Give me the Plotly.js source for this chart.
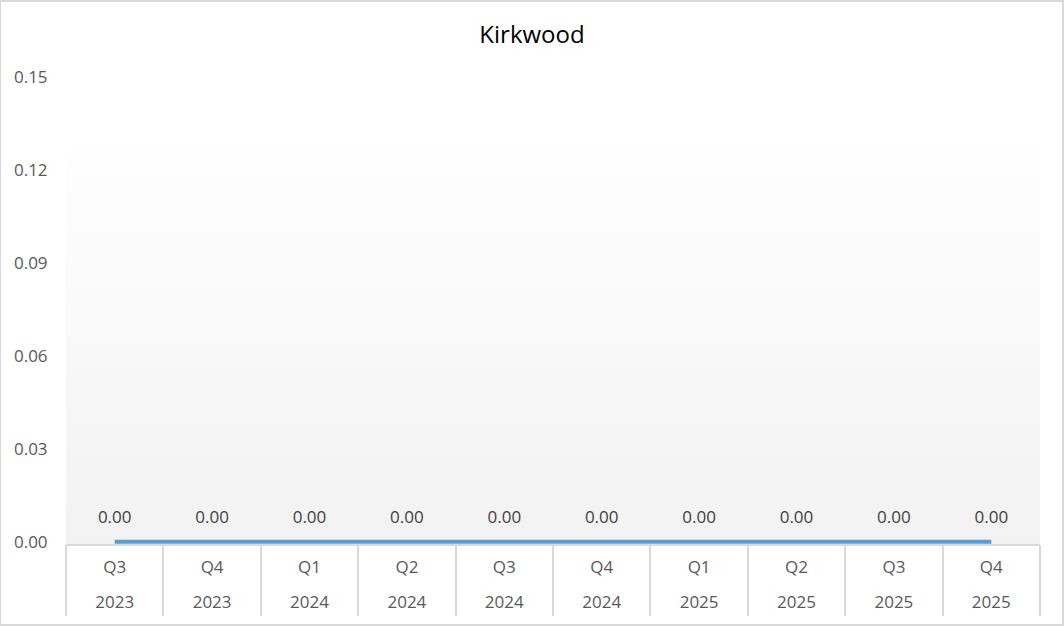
<!DOCTYPE html>
<html>
<head>
<meta charset="utf-8">
<script src="https://cdn.plot.ly/plotly-3.0.1.min.js"></script>
<style>
  html, body { margin: 0; padding: 0; background: #ffffff; }
  #chart { width: 1064px; height: 626px; }
</style>
</head>
<body>
<div id="chart"></div>
<script>
// Chart data
const quarters = ['Q3', 'Q4', 'Q1', 'Q2', 'Q3', 'Q4', 'Q1', 'Q2', 'Q3', 'Q4'];
const years = ['2023', '2023', '2024', '2024', '2024', '2024', '2025', '2025', '2025', '2025'];
const values = [0, 0, 0, 0, 0, 0, 0, 0, 0, 0];
const yTicks = [0, 0.03, 0.06, 0.09, 0.12, 0.15];

const categories = quarters.map((q, i) => q + ' ' + years[i]);

const labelFont = { family: '"Open Sans", "Noto Sans", sans-serif', size: 17, color: '#595959' };
const gridGray = '#d9d9d9';

// a little room under zero so the thick line at 0 is not cut in half
const yMin = -0.0007;
const yMax = 0.15;

// Soft vertical gradient for the plot area (white at top, light gray at bottom)
const gradientSvg =
    '<svg xmlns="http://www.w3.org/2000/svg" width="10" height="100" preserveAspectRatio="none">' +
    '<defs><linearGradient id="g" x1="0" y1="0" x2="0" y2="1">' +
    '<stop offset="0" stop-color="#ffffff"/><stop offset="1" stop-color="#f2f2f2"/>' +
    '</linearGradient></defs><rect width="10" height="100" fill="url(#g)"/></svg>';

const lineTrace = {
    type: 'scatter',
    mode: 'lines+markers+text',
    x: categories,
    y: values,
    line: { color: '#5b9bd5', width: 4 },
    // invisible markers only push the value labels up
    marker: { size: 22, color: 'rgba(0,0,0,0)' },
    text: values.map(v => v.toFixed(2)),
    textposition: 'top center',
    textfont: { family: labelFont.family, size: 17, color: '#404040' },
    cliponaxis: false,
    hoverinfo: 'x+y',
    showlegend: false
};

// helper traces so the overlaid axes (year labels, dividers) get drawn
const yearTrace = { type: 'scatter', mode: 'none', x: categories, y: values, xaxis: 'x2', hoverinfo: 'skip', showlegend: false };
const dividerTrace = { type: 'scatter', mode: 'none', x: categories, y: values, xaxis: 'x3', hoverinfo: 'skip', showlegend: false };

const catRange = [-0.5, categories.length - 0.5];

const layout = {
    width: 1064,
    height: 626,
    paper_bgcolor: '#ffffff',
    plot_bgcolor: '#ffffff',
    margin: { l: 66, r: 24, t: 77, b: 82 },
    title: {
        text: 'Kirkwood',
        font: { family: labelFont.family, size: 24, color: '#000000' },
        x: 0.5,
        xanchor: 'center',
        y: 0.945,
        yanchor: 'middle'
    },
    xaxis: {
        type: 'category',
        range: catRange,
        tickvals: categories,
        ticktext: quarters,
        ticks: '',
        ticklabelstandoff: 7,
        showgrid: false,
        zeroline: false,
        showline: true,
        linecolor: gridGray,
        linewidth: 2,
        layer: 'below traces',
        tickfont: labelFont,
        fixedrange: true
    },
    xaxis2: {
        type: 'category',
        overlaying: 'x',
        anchor: 'y',
        side: 'bottom',
        range: catRange,
        tickvals: categories,
        ticktext: years,
        ticks: '',
        ticklabelstandoff: 46,
        showgrid: false,
        zeroline: false,
        showline: false,
        tickfont: labelFont,
        fixedrange: true
    },
    xaxis3: {
        type: 'category',
        overlaying: 'x',
        anchor: 'y',
        side: 'bottom',
        range: catRange,
        tickvals: categories,
        ticks: 'outside',
        tickson: 'boundaries',
        ticklen: 71,
        tickwidth: 2,
        tickcolor: gridGray,
        showticklabels: false,
        showgrid: false,
        zeroline: false,
        showline: false,
        layer: 'below traces',
        fixedrange: true
    },
    yaxis: {
        range: [yMin, yMax],
        tickvals: yTicks,
        tickformat: '.2f',
        ticks: 'outside',
        ticklen: 14,
        tickcolor: 'rgba(0,0,0,0)',
        showgrid: false,
        zeroline: false,
        showline: false,
        tickfont: labelFont,
        fixedrange: true
    },
    images: [{
        source: 'data:image/svg+xml;charset=utf-8,' + encodeURIComponent(gradientSvg),
        xref: 'paper', yref: 'y',
        x: 0, y: 0.133,
        sizex: 1, sizey: 0.133 - yMin,
        sizing: 'stretch',
        xanchor: 'left', yanchor: 'top',
        layer: 'below'
    }],
    shapes: [{
        type: 'rect',
        xref: 'paper', yref: 'paper',
        x0: -66 / 974, x1: 1 + 23 / 974,
        y0: -81 / 467, y1: 1 + 76 / 467,
        line: { color: gridGray, width: 2 },
        fillcolor: 'rgba(0,0,0,0)',
        layer: 'above'
    }]
};

Plotly.newPlot('chart', [lineTrace, yearTrace, dividerTrace], layout, { displayModeBar: false, responsive: false });
</script>
</body>
</html>
